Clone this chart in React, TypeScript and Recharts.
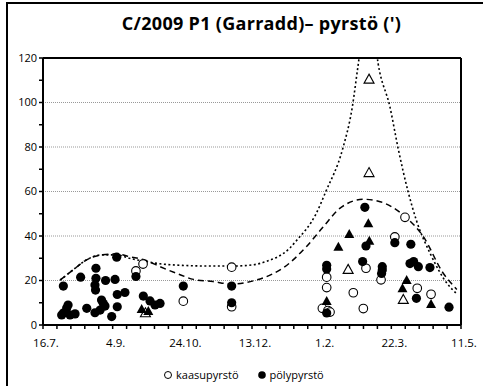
import {
  CartesianGrid,
  ComposedChart,
  Line,
  ReferenceLine,
  Scatter,
  XAxis,
  YAxis,
} from "recharts";

// days counted from 16.7.
const dateLabels = ["16.7.", "4.9.", "24.10.", "13.12.", "1.2.", "22.3.", "11.5."];
const labelStep = 50;
const dayTicks = [0, 10, 20, 30, 40, 50, 60, 70, 80, 90, 100, 110, 120, 130, 140, 150, 160, 170, 180, 190, 200, 210, 220, 230, 240, 250, 260, 270, 280, 290, 300];
const valueTicks = [0, 10, 20, 30, 40, 50, 60, 70, 80, 90, 100, 110, 120];

// pölypyrstö (dust tail), filled circles
const dustCircles = [
  [13.4, 4.5], [14.6, 5.4], [16.5, 5.8], [17, 7.6], [18, 9], [19.4, 4.5], [23, 5],
  [14.6, 17.5], [27, 21.5], [31.4, 7.5], [38, 25.5], [38, 21], [37.3, 18], [37.7, 15.7],
  [44.9, 20], [37.3, 5.5], [41, 6.7], [42, 11.2], [43.3, 9.7], [44.5, 8.5], [49.3, 3.8],
  [52.9, 30.5], [51.7, 20.5], [53.3, 13.7], [53.3, 8.2], [58.8, 14.6], [66.7, 21.8],
  [72, 13], [76.8, 10.8], [80.4, 9], [84, 9.7], [100.7, 17.5], [135.4, 17.5], [135.4, 10],
  [231, 52.9], [231.8, 35.5], [252.5, 37], [264, 36.3], [229.4, 28.5], [203.6, 26.8],
  [203.6, 25.2], [243.5, 26.2], [243.5, 24.7], [243, 23.2], [263.4, 27.6], [266, 28.5],
  [269.4, 26.2], [277.7, 25.8], [203.6, 5.4], [268, 12], [291.4, 8],
];

// kaasupyrstö (gas tail), open circles
const gasCircles = [
  [66.7, 24.3], [71.8, 27.4], [100.7, 10.7], [135.4, 26], [135.4, 8.2],
  [259.8, 48.4], [252.5, 39.6], [203.6, 21.5], [203.6, 16.8], [231.8, 25.5], [242.6, 20.3],
  [222.7, 14.5], [229.9, 7.4], [268.6, 16.5], [278.5, 13.8], [200.5, 7.5], [204.5, 6.5],
  [206, 5.8],
];

const dustTriangles = [
  [70.8, 7.2], [75.6, 6.3], [233.5, 45.7], [219.8, 40.9], [212, 35.2], [234.2, 37.9],
  [261, 20.2], [258, 16.5], [278.5, 9.4], [203.6, 10.8],
];

const gasTriangles = [
  [73.5, 5.5], [219, 25], [258.6, 11.5], [234, 110.5], [234, 68.5],
];

const dustTrend = [
  [12.3, 20.2], [21.5, 24.7], [31, 29.2], [42, 31.5], [53, 32], [62, 30.7], [74, 29],
  [84, 26.2], [96, 23.2], [108, 20.5], [122, 19.5], [136, 18.4], [153, 20.2], [165, 23],
  [172, 25.5], [189, 35.2], [201, 44], [213, 52.4], [230, 56.5], [242, 55.4], [260, 48.7],
  [273, 39.7], [287, 23.5], [297, 16],
];

const gasTrend = [
  [12.3, 20.2], [21.5, 24.7], [31, 29.2], [42, 31.5], [53, 31.5], [62, 30], [74, 28.5],
  [84, 27.5], [100, 26.8], [120, 26.5], [136, 26.5], [150, 27], [160, 28.5], [177, 34.5],
  [182, 38], [196, 50], [203, 60], [215, 79], [222, 98], [226, 116], [234, 150],
  [240.5, 117.6], [249, 98], [255, 79], [262, 60], [268, 47], [278, 32], [290, 18.7],
  [297, 14],
];

const toPoints = (rows: number[][]) => rows.map(([x, y]) => ({ x, y }));

const openCircle = (p: any) => (
  <circle cx={p.cx} cy={p.cy} r={4.3} fill="#fff" stroke="#000" strokeWidth={1.1} />
);
const fullCircle = (p: any) => (
  <circle cx={p.cx} cy={p.cy} r={4.6} fill="#000" />
);
const triPath = (cx: number, cy: number) =>
  `M${cx},${cy - 5} L${cx + 5},${cy + 4} L${cx - 5},${cy + 4} Z`;
const fullTriangle = (p: any) => <path d={triPath(p.cx, p.cy)} fill="#000" />;
const openTriangle = (p: any) => (
  <path d={triPath(p.cx, p.cy)} fill="#fff" stroke="#000" strokeWidth={1.1} />
);

const font = "'Open Sans', sans-serif";

export default function App() {
  return (
    <div style={{ position: "relative", width: 483, height: 386, fontFamily: font, background: "#fff", overflow: "hidden" }}>
      <style>{"body{margin:0}"}</style>
      <svg width={483} height={386} style={{ position: "absolute", left: 0, top: 0 }}>
        <rect x={7} y={3} width={490} height={400} fill="#fff" stroke="#000" strokeWidth={2} />
      </svg>
      <div
        style={{
          position: "absolute",
          left: 0,
          width: 523,
          top: 11,
          textAlign: "center",
          fontWeight: 700,
          fontSize: 18,
          letterSpacing: 0.3,
          color: "#000",
          whiteSpace: "nowrap",
        }}
      >
        C/2009 P1 (Garradd)– pyrstö (')
      </div>
      <div style={{ position: "absolute", left: 0, top: 0 }}>
        <ComposedChart
          width={483}
          height={386}
          margin={{ top: 58, right: 22, bottom: 31, left: 13 }}
        >
          <CartesianGrid
            horizontal
            vertical={false}
            stroke="#999"
            strokeDasharray="1 1"
            horizontalValues={[20, 40, 60, 80, 100]}
          />
          <XAxis
            type="number"
            dataKey="x"
            domain={[0, 300]}
            ticks={dayTicks}
            interval={0}
            tickFormatter={(v: number) => (v % labelStep === 0 ? dateLabels[v / labelStep] : "")}
            axisLine={{ stroke: "#000", strokeWidth: 2 }}
            tickLine={{ stroke: "#000", strokeWidth: 1.5 }}
            tickSize={4}
            tickMargin={10}
            tick={{ fontSize: 11.5, fill: "#000", fontFamily: font, dx: 3 }}
            height={30}
          />
          <YAxis
            type="number"
            dataKey="y"
            domain={[0, 120]}
            allowDataOverflow
            ticks={valueTicks}
            interval={0}
            tickFormatter={(v: number) => (v % 20 === 0 ? String(v) : "")}
            axisLine={{ stroke: "#000", strokeWidth: 2 }}
            tickLine={{ stroke: "#000", strokeWidth: 1.5 }}
            tickSize={4}
            tick={{ fontSize: 11, fill: "#000", fontFamily: font }}
            width={30}
          />
          <ReferenceLine y={120} stroke="#000" strokeWidth={2} />
          <ReferenceLine x={300} stroke="#000" strokeWidth={2} />
          <Line
            data={toPoints(gasTrend)}
            dataKey="y"
            type="monotone"
            stroke="#000"
            strokeWidth={1.6}
            strokeDasharray="2 2.5"
            dot={false}
            activeDot={false}
            isAnimationActive={false}
          />
          <Line
            data={toPoints(dustTrend)}
            dataKey="y"
            type="monotone"
            stroke="#000"
            strokeWidth={1.5}
            strokeDasharray="6 4"
            dot={false}
            activeDot={false}
            isAnimationActive={false}
          />
          <Scatter data={toPoints(gasCircles)} shape={openCircle} isAnimationActive={false} />
          <Scatter data={toPoints(dustCircles)} shape={fullCircle} isAnimationActive={false} />
          <Scatter data={toPoints(gasTriangles)} shape={openTriangle} isAnimationActive={false} />
          <Scatter data={toPoints(dustTriangles)} shape={fullTriangle} isAnimationActive={false} />
        </ComposedChart>
      </div>
      <div
        style={{
          position: "absolute",
          left: 163,
          top: 367,
          fontSize: 11,
          color: "#000",
          display: "flex",
          alignItems: "center",
          whiteSpace: "nowrap",
        }}
      >
        <svg width={10} height={10} style={{ marginRight: 3 }}>
          <circle cx={5} cy={5} r={3.5} fill="#fff" stroke="#000" strokeWidth={1} />
        </svg>
        <span>kaasupyrstö</span>
        <svg width={10} height={10} style={{ marginLeft: 18, marginRight: 3 }}>
          <circle cx={5} cy={5} r={3.8} fill="#000" />
        </svg>
        <span>pölypyrstö</span>
      </div>
    </div>
  );
}
